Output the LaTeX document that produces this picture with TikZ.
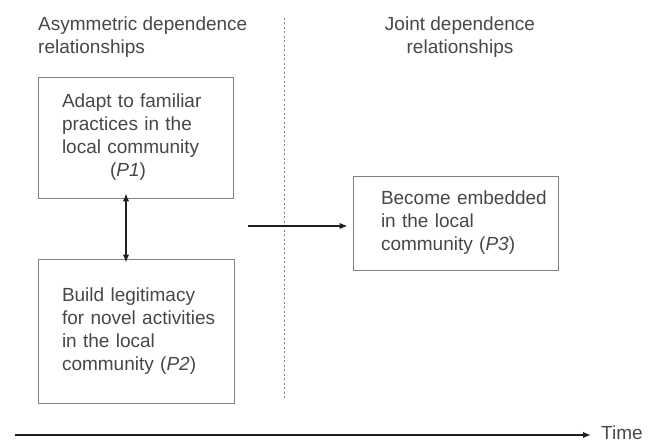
\documentclass[tikz,border=0pt]{standalone}
\usepackage{fontspec}
\setmainfont{Liberation Sans}
\usetikzlibrary{arrows.meta,calc}
\definecolor{txtgray}{gray}{0.28}
\definecolor{boxgray}{gray}{0.5}
\definecolor{arrowgray}{gray}{0.12}
\newcommand{\boxline}[1]{\mbox{#1}}
\tikzset{
  lbl/.style={font=\fontsize{19}{23}\selectfont, text=txtgray, inner sep=0pt},
  propbox/.style={draw=boxgray, line width=0.9pt, lbl, align=left, inner ysep=0pt},
  conn/.style={draw=arrowgray, line width=1.5pt, -{Latex[length=8pt,width=6.5pt]}},
  dconn/.style={draw=arrowgray, line width=1.5pt, {Latex[length=8pt,width=6.5pt]}-{Latex[length=8pt,width=6.5pt]}},
  divider/.style={draw=boxgray, line width=0.8pt, dash pattern=on 2pt off 2.5pt}
}
\begin{document}
\begin{tikzpicture}[x=1pt,y=-1pt]
\useasboundingbox (0,0) rectangle (648,444);

% headers
\node[lbl, anchor=north west, align=left] (hleft) at (38,17)
  {Asymmetric dependence\\relationships};
\node[lbl, anchor=north, align=center] (hright) at (460,17)
  {Joint dependence\\relationships};

% divider
\draw[divider] (284,18) -- (284,400);

% boxes
\node[propbox, minimum width=195pt, minimum height=121pt, text width=147pt, inner xsep=24pt] (p1) at (135.5,137.5)
  {\boxline{Adapt to familiar}\\\boxline{practices in the}\\\boxline{local community}\\\hspace*{48pt}(\textit{P1})};
\node[propbox, minimum width=196pt, minimum height=144pt, text width=148pt, inner xsep=24pt] (p2) at (136,331)
  {\boxline{Build legitimacy}\\\boxline{for novel activities}\\\boxline{in the local}\\\boxline{community (\textit{P2})}};
\node[propbox, minimum width=205pt, minimum height=94pt, text width=149pt, inner xsep=28pt] (p3) at (455.5,223)
  {\boxline{Become embedded}\\\boxline{in the local}\\\boxline{community (\textit{P3})}};

% connectors
\draw[dconn] ($(p1.south)+(-9.5,-5)$) -- ($(p2.north)+(-10,4)$);
\coordinate (h0) at (248,226);
\draw[conn] (h0) -- ($(h0 -| p3.west)+(-5,0)$);

% time axis
\node[lbl, anchor=west] (time) at (601,433) {Time};
\coordinate (t0) at (15,435);
\draw[conn, line width=1.6pt] (t0) -- ($(time.west |- t0)+(-10,0)$);
\end{tikzpicture}
\end{document}
